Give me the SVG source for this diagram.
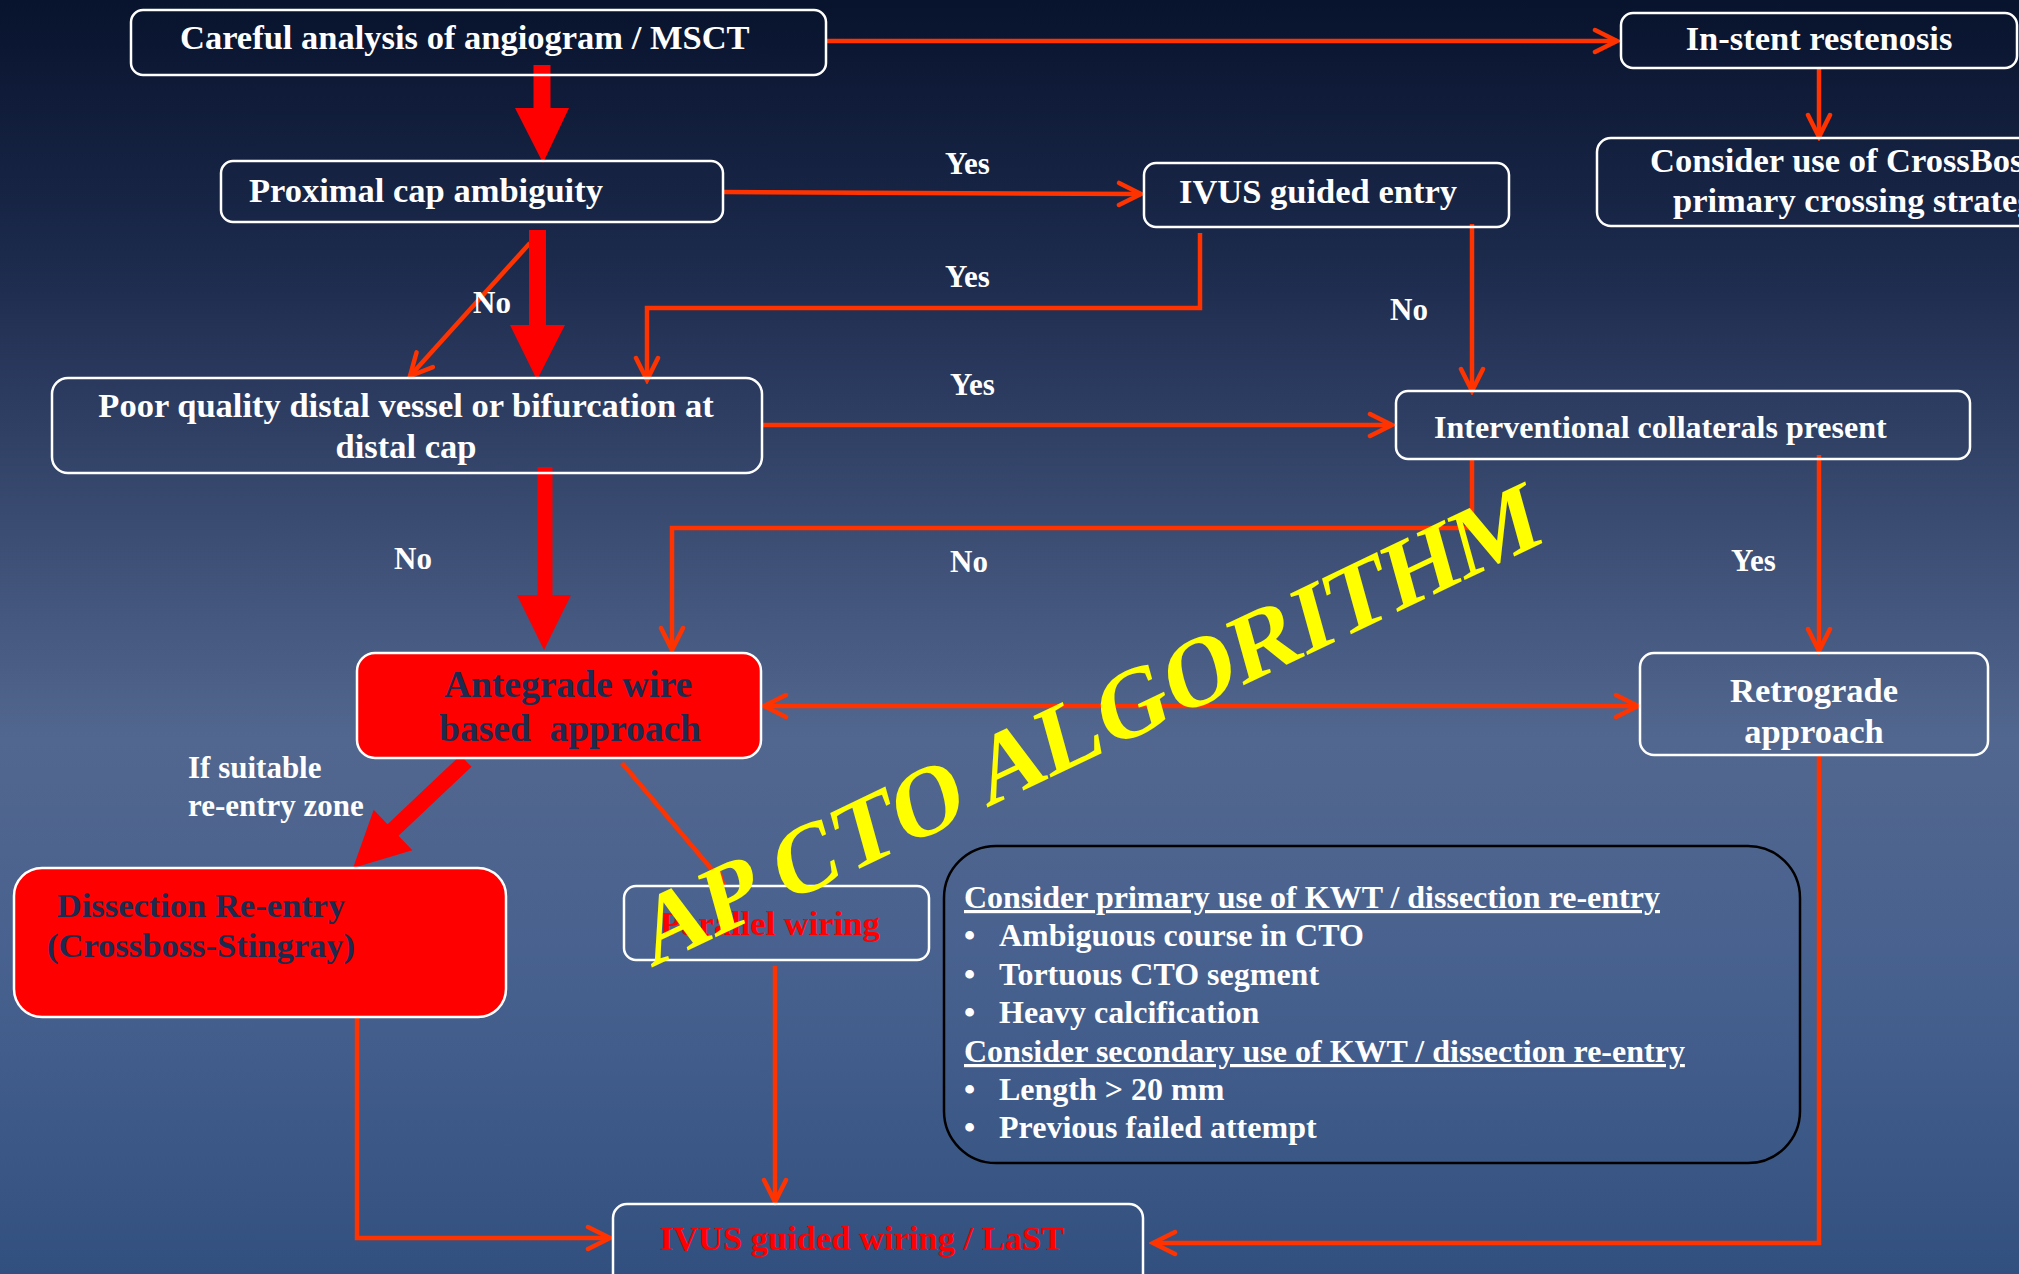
<svg xmlns="http://www.w3.org/2000/svg" width="2019" height="1274" viewBox="0 0 2019 1274">
<defs>
<linearGradient id="bg" x1="0" y1="0" x2="0" y2="1">
<stop offset="0" stop-color="#08132d"/>
<stop offset="0.2" stop-color="#1b294b"/>
<stop offset="0.4" stop-color="#394a70"/>
<stop offset="0.58" stop-color="#52678f"/>
<stop offset="0.78" stop-color="#46608e"/>
<stop offset="1" stop-color="#32507f"/>
</linearGradient>
<marker id="ch" markerUnits="userSpaceOnUse" markerWidth="30" markerHeight="30" viewBox="-26 -15 30 30" refX="0" refY="0" orient="auto-start-reverse">
<path d="M-22,-11 L0,0 L-22,11" fill="none" stroke="#ff3300" stroke-width="4.5" stroke-linecap="round" stroke-linejoin="miter"/>
</marker>
<marker id="tri" markerUnits="userSpaceOnUse" markerWidth="20" markerHeight="20" viewBox="-14 -8 16 16" refX="0" refY="0" orient="auto">
<path d="M-12,-6 L0,0 L-12,6 Z" fill="#ff3300"/>
</marker>
<style>
.box{fill:none;stroke:#ffffff;stroke-width:2.5}
.red{fill:#ff0000;stroke:#ffffff;stroke-width:2.5}
.t{font-family:"Liberation Serif","Times New Roman",serif;font-weight:bold;font-size:34.5px;fill:#ffffff}
.lbl{font-size:31px}
.dk{fill:#1c2b4f;font-size:37.5px}
.rt{fill:#ff0000}
.info{font-size:32px}
.ul{text-decoration:underline}
.c{fill:none;stroke:#ff3300;stroke-width:4.5}
.thick{fill:#ff0000}
.mid{text-anchor:middle}
</style>
</defs>
<rect x="0" y="0" width="2019" height="1274" fill="url(#bg)"/>

<g id="connectors">
<path class="c" d="M826,41 H1617" marker-end="url(#ch)"/>
<path class="c" d="M1819,68 V137" marker-end="url(#ch)"/>
<path class="c" d="M723,192 L1141,194" marker-end="url(#ch)"/>
<path class="c" d="M530,243 L410,376" marker-end="url(#ch)" stroke-width="4"/>
<path class="c" d="M1200,233 V308 H647 V380" marker-end="url(#ch)"/>
<path class="c" d="M1472,224 V391" marker-end="url(#ch)"/>
<path class="c" d="M762,425 H1392" marker-end="url(#ch)"/>
<path class="c" d="M1472,459 V528 H672 V650" marker-end="url(#ch)"/>
<path class="c" d="M1819,455 V651" marker-end="url(#ch)"/>
<path class="c" d="M764,706 H1638" marker-start="url(#ch)" marker-end="url(#ch)"/>
<path class="c" d="M622,763 L725,885" marker-end="url(#tri)" stroke-width="4"/>
<path class="c" d="M357,1017 V1238 H610" marker-end="url(#ch)"/>
<path class="c" d="M775,966 V1202" marker-end="url(#ch)"/>
<path class="c" d="M1819,755 V1243 H1153" marker-end="url(#ch)"/>
<polygon class="thick" points="533.5,65 550.5,65 550.5,108 569,108 543,163 515,108 533.5,108"/>
<polygon class="thick" points="529,230 546,230 546,325 565,325 537,380 510,325 529,325"/>
<polygon class="thick" points="537.5,467 552.5,467 552.5,595 571,595 544,650 517,595 537.5,595"/>
<polygon class="thick" points="471.5,766.8 460.5,755.2 387.5,824.2 373.7,809.7 353,868 412.3,850.3 398.5,835.8"/>
</g>

<g id="labels">
<text class="t lbl" x="945" y="174">Yes</text>
<text class="t lbl" x="945" y="287">Yes</text>
<text class="t lbl" x="950" y="395">Yes</text>
<text class="t lbl" x="473" y="313">No</text>
<text class="t lbl" x="1390" y="320">No</text>
<text class="t lbl" x="394" y="569">No</text>
<text class="t lbl" x="950" y="572">No</text>
<text class="t lbl" x="1731" y="571">Yes</text>
<text class="t lbl" x="188" y="778">If suitable</text>
<text class="t lbl" x="188" y="816">re-entry zone</text>
</g>

<g id="n-careful">
<rect class="box" x="131" y="10" width="695" height="65" rx="12"/>
<text class="t" x="180" y="49">Careful analysis of angiogram / MSCT</text>
</g>
<g id="n-instent">
<rect class="box" x="1621" y="13" width="396" height="55" rx="12"/>
<text class="t mid" x="1819" y="50">In-stent restenosis</text>
</g>
<g id="n-crossboss">
<rect class="box" x="1597" y="138" width="460" height="88" rx="14"/>
<text class="t" x="1650" y="172">Consider use of CrossBoss</text>
<text class="t" x="1673" y="212">primary crossing strategy</text>
</g>
<g id="n-proximal">
<rect class="box" x="221" y="161" width="502" height="61" rx="12"/>
<text class="t" x="249" y="202">Proximal cap ambiguity</text>
</g>
<g id="n-ivus-entry">
<rect class="box" x="1144" y="163" width="365" height="64" rx="12"/>
<text class="t" x="1179" y="203">IVUS guided entry</text>
</g>
<g id="n-poor">
<rect class="box" x="52" y="378" width="710" height="95" rx="16"/>
<text class="t mid" x="406" y="417">Poor quality distal vessel or bifurcation at</text>
<text class="t mid" x="406" y="458">distal cap</text>
</g>
<g id="n-collaterals">
<rect class="box" x="1396" y="391" width="574" height="68" rx="12"/>
<text class="t" x="1434" y="438" style="font-size:32px">Interventional collaterals present</text>
</g>
<g id="n-antegrade">
<rect class="red" x="357" y="653" width="404" height="105" rx="18"/>
<text class="t dk mid" x="568" y="697">Antegrade wire</text>
<text class="t dk mid" x="570" y="741" xml:space="preserve">based  approach</text>
</g>
<g id="n-retrograde">
<rect class="box" x="1640" y="653" width="348" height="102" rx="14"/>
<text class="t mid" x="1814" y="702">Retrograde</text>
<text class="t mid" x="1814" y="743">approach</text>
</g>
<g id="n-dissection">
<rect class="red" x="14" y="868" width="492" height="149" rx="28"/>
<text class="t dk mid" x="201" y="917" style="font-size:34.5px">Dissection Re-entry</text>
<text class="t dk mid" x="201" y="957" style="font-size:34.5px">(Crossboss-Stingray)</text>
</g>
<g id="n-parallel">
<rect class="box" x="624" y="886" width="305" height="74" rx="12"/>
<text class="t rt mid" x="770" y="935">Parallel wiring</text>
</g>
<g id="n-info">
<rect x="944" y="846" width="856" height="317" rx="52" fill="none" stroke="#000000" stroke-width="2.5"/>
<text class="t info ul" x="964" y="908">Consider primary use of KWT / dissection re-entry</text>
<text class="t info" x="964" y="946"><tspan x="964">•</tspan><tspan x="999">Ambiguous course in CTO</tspan></text>
<text class="t info" x="964" y="985"><tspan x="964">•</tspan><tspan x="999">Tortuous CTO segment</tspan></text>
<text class="t info" x="964" y="1023"><tspan x="964">•</tspan><tspan x="999">Heavy calcification</tspan></text>
<text class="t info ul" x="964" y="1062">Consider secondary use of KWT / dissection re-entry</text>
<text class="t info" x="964" y="1100"><tspan x="964">•</tspan><tspan x="999">Length &gt; 20 mm</tspan></text>
<text class="t info" x="964" y="1138"><tspan x="964">•</tspan><tspan x="999">Previous failed attempt</tspan></text>
</g>
<g id="n-ivus-wiring">
<rect class="box" x="613" y="1204" width="530" height="90" rx="14"/>
<text class="t rt mid" x="862" y="1250">IVUS guided wiring / LaST</text>
</g>

<text id="watermark" class="t" transform="translate(651,968) rotate(-25.5) skewX(-10)" style="font-size:96px;fill:#ffff00" xml:space="preserve">AP CTO ALGORITHM</text>
</svg>
